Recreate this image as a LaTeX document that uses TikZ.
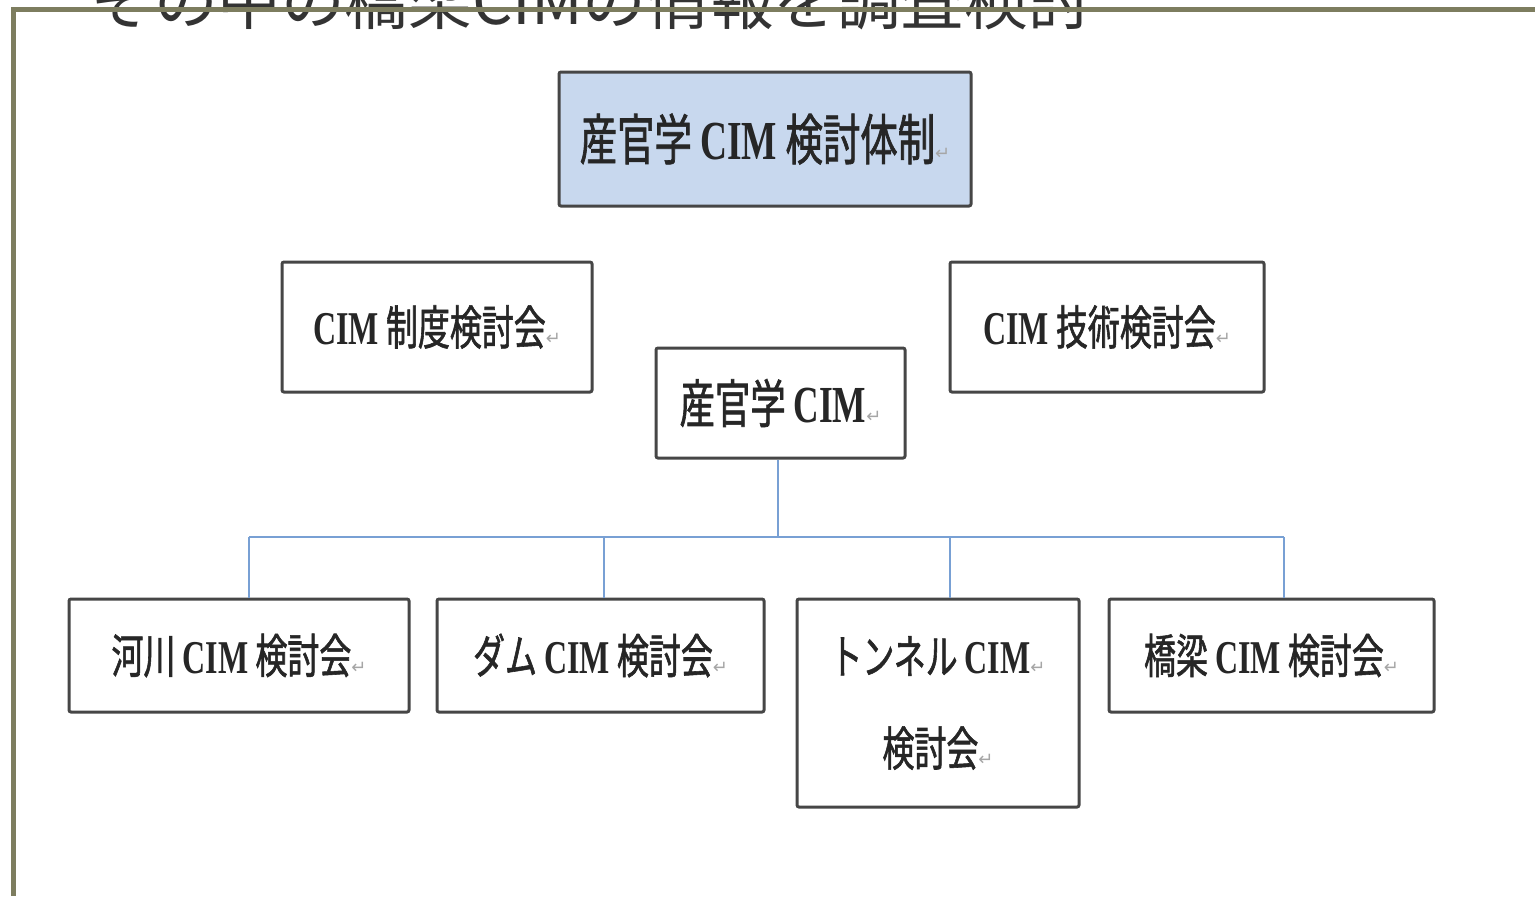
\documentclass[tikz,border=0pt]{standalone}
\usepackage{fontspec}
\newfontfamily\jp[FakeStretch=0.68, FakeBold=1.2]{Noto Sans CJK JP}
\newfontfamily\jptop{Noto Sans CJK JP}
\newfontfamily\cimserif[FakeStretch=0.68]{Liberation Serif}
\newfontfamily\dejavu{DejaVu Sans}
\newcommand{\CIMt}{{\cimserif\bfseries CIM}}
\newcommand{\retmark}{{\dejavu\fontsize{9}{9}\selectfont\textcolor{black!35}{↵}}}
\definecolor{frameolive}{RGB}{125,125,95}
\definecolor{boxblue}{RGB}{200,216,238}
\definecolor{linkblue}{RGB}{120,160,212}
\definecolor{boxedge}{RGB}{70,70,70}
\tikzset{
  orgbox/.style={draw=boxedge, line width=1.5pt, rounded corners=1pt, fill=white,
    inner sep=0pt, text=black!85, font=\jp\fontsize{23.5}{28}\selectfont},
  link/.style={draw=linkblue, line width=1pt}
}
\begin{document}
\begin{tikzpicture}[x=0.5pt,y=-0.5pt]
\useasboundingbox (0,0) rectangle (1535,896);
\fill[white] (0,0) rectangle (1535,896);
% cut-off heading
\node[anchor=base west, inner sep=0pt, text=black!80, font=\jptop\fontsize{31.8}{32}\selectfont] (heading) at (90,24) {その中の橋梁CIMの情報を調査検討};
% frame
\draw[frameolive, line width=2.5pt] (1535,9) -- (13,9) -- (13,896);
% boxes
\node[orgbox, fill=boxblue, minimum width=206pt, minimum height=67pt, font=\jp\fontsize{27.5}{30}\selectfont] (top) at (765,139) {産官学 \CIMt{} 検討体制\retmark};
\node[orgbox, minimum width=155pt, minimum height=65pt] (seido) at (437,327) {\CIMt{} 制度検討会\retmark};
\node[orgbox, minimum width=157pt, minimum height=65pt] (gijutsu) at (1107,327) {\CIMt{} 技術検討会\retmark};
\node[orgbox, minimum width=124.5pt, minimum height=55pt, font=\jp\fontsize{26}{30}\selectfont] (sankan) at (780.5,403) {産官学 \CIMt\retmark};
\node[orgbox, minimum width=170pt, minimum height=56.5pt] (kasen) at (239,655.5) {河川 \CIMt{} 検討会\retmark};
\node[orgbox, minimum width=163.5pt, minimum height=56.5pt] (dam) at (600.5,655.5) {ダム \CIMt{} 検討会\retmark};
\node[orgbox, minimum width=141pt, minimum height=104pt, align=center, font=\jp\fontsize{23.5}{46}\selectfont] (tunnel) at (938,703) {トンネル \CIMt\retmark\\検討会\retmark};
\node[orgbox, minimum width=162.5pt, minimum height=56.5pt] (kyoryo) at (1271.5,655.5) {橋梁 \CIMt{} 検討会\retmark};
% connectors
\coordinate (bus) at (778,537);
\coordinate (b1) at (249,537);
\coordinate (b2) at (604,537);
\coordinate (b3) at (950,537);
\coordinate (b4) at (1284,537);
\draw[link] (sankan.south -| bus) -- (bus);
\draw[link] (b1) -- (b4);
\draw[link] (b1) -- (b1 |- kasen.north);
\draw[link] (b2) -- (b2 |- dam.north);
\draw[link] (b3) -- (b3 |- tunnel.north);
\draw[link] (b4) -- (b4 |- kyoryo.north);
\end{tikzpicture}
\end{document}
